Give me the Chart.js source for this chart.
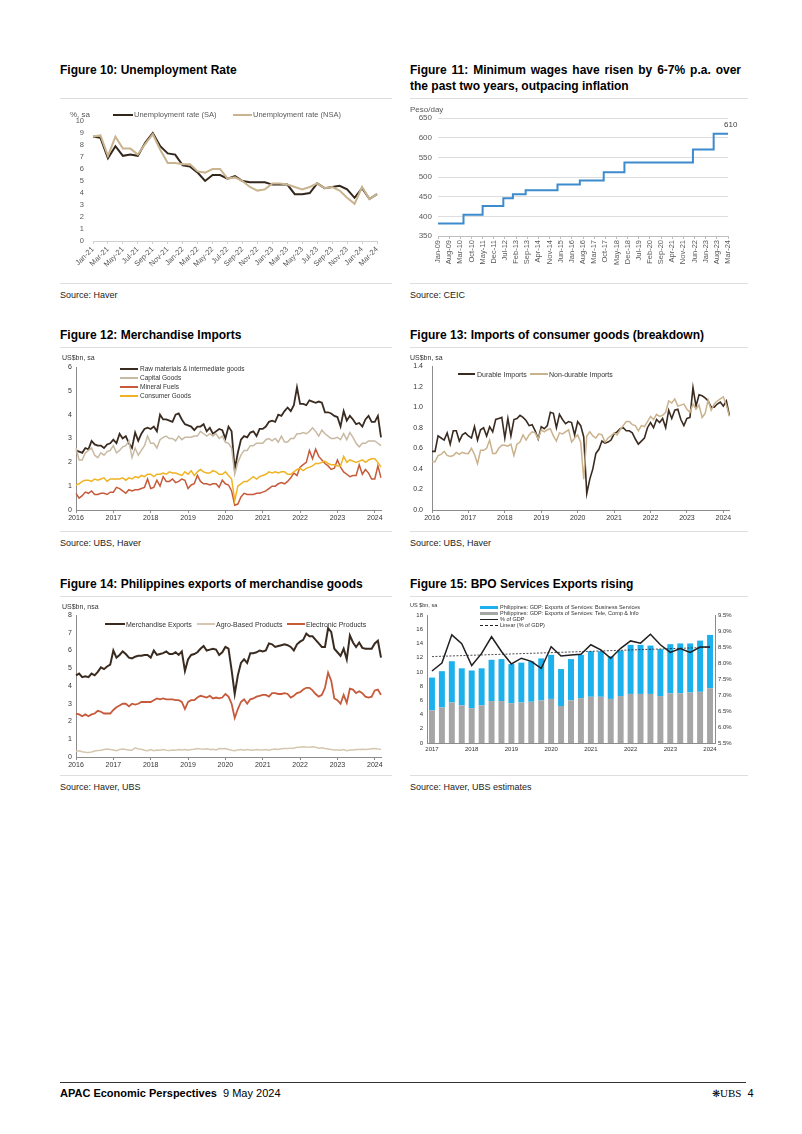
<!DOCTYPE html>
<html>
<head>
<meta charset="utf-8">
<script src="https://cdn.jsdelivr.net/npm/chart.js@4.4.0/dist/chart.umd.min.js"></script>
<style>
body { margin: 0; background: #fff; }
#page { position: relative; width: 802px; height: 1134px; font-family: 'Liberation Sans', Arial, sans-serif; color: #000; overflow: hidden; background: #fff; }
.t { position: absolute; font-weight: bold; font-size: 12px; line-height: 16px; }
.src { position: absolute; font-size: 9px; color: #222; line-height: 1; }
.rule { position: absolute; height: 1px; background: #dedede; }
.lbl { position: absolute; color: #333; white-space: nowrap; line-height: 1; }
.key { position: absolute; height: 2px; }
canvas { position: absolute; }
</style>
</head>
<body>
<div id="page">
  <!-- row 1 -->
  <div class="t" style="left:60px;top:62px;">Figure 10: Unemployment Rate</div>
  <div class="t" style="left:410px;top:62px;width:331px;text-align:justify;">Figure 11: Minimum wages have risen by 6-7% p.a. over the past two years, outpacing inflation</div>
  <div class="rule" style="left:60px;top:98px;width:332px;"></div>
  <div class="rule" style="left:410px;top:98px;width:338px;"></div>

  <canvas id="c10" width="330" height="175" style="left:60px;top:112px;width:330px;height:175px;"></canvas>
  <div class="lbl" style="left:70px;top:111px;font-size:8px;color:#595959;">%, sa</div>
  <div class="key" style="left:113px;top:114px;width:20px;background:#33261b;"></div>
  <div class="lbl" style="left:134px;top:111px;font-size:7.5px;color:#595959;">Unemployment rate (SA)</div>
  <div class="key" style="left:233px;top:114px;width:19px;background:#c9b48f;"></div>
  <div class="lbl" style="left:253px;top:111px;font-size:7.5px;color:#595959;">Unemployment rate (NSA)</div>

  <canvas id="c11" width="340" height="165" style="left:405px;top:105px;width:340px;height:165px;"></canvas>
  <div class="lbl" style="left:410px;top:106px;font-size:8px;color:#595959;">Peso/day</div>
  <div class="lbl" style="left:724px;top:121px;font-size:8px;color:#404040;">610</div>

  <div class="rule" style="left:60px;top:283px;width:332px;"></div>
  <div class="rule" style="left:410px;top:283px;width:338px;"></div>
  <div class="src" style="left:60px;top:291px;">Source: Haver</div>
  <div class="src" style="left:410px;top:291px;">Source: CEIC</div>

  <!-- row 2 -->
  <div class="t" style="left:60px;top:327px;">Figure 12: Merchandise Imports</div>
  <div class="t" style="left:410px;top:327px;">Figure 13: Imports of consumer goods (breakdown)</div>
  <div class="rule" style="left:60px;top:347px;width:332px;"></div>
  <div class="rule" style="left:410px;top:347px;width:338px;"></div>

  <canvas id="c12" width="330" height="170" style="left:60px;top:355px;width:330px;height:170px;"></canvas>
  <div class="lbl" style="left:62px;top:354px;font-size:7px;">US$bn, sa</div>
  <div class="key" style="left:120px;top:368px;width:18px;background:#3a2b20;"></div>
  <div class="lbl" style="left:140px;top:366px;font-size:6.5px;">Raw materials &amp; intermediate goods</div>
  <div class="key" style="left:120px;top:377px;width:18px;background:#c8b9a2;"></div>
  <div class="lbl" style="left:140px;top:375px;font-size:6.5px;">Capital Goods</div>
  <div class="key" style="left:120px;top:386px;width:18px;background:#c65a3a;"></div>
  <div class="lbl" style="left:140px;top:384px;font-size:6.5px;">Mineral Fuels</div>
  <div class="key" style="left:120px;top:395px;width:18px;background:#f0b323;"></div>
  <div class="lbl" style="left:140px;top:393px;font-size:6.5px;">Consumer Goods</div>

  <canvas id="c13" width="340" height="170" style="left:405px;top:355px;width:340px;height:170px;"></canvas>
  <div class="lbl" style="left:410px;top:354px;font-size:7px;">US$bn, sa</div>
  <div class="key" style="left:458px;top:373px;width:17px;background:#3a2b20;"></div>
  <div class="lbl" style="left:477px;top:371px;font-size:7px;">Durable Imports</div>
  <div class="key" style="left:530px;top:373px;width:18px;background:#c9b28c;"></div>
  <div class="lbl" style="left:549px;top:371px;font-size:7px;">Non-durable Imports</div>

  <div class="rule" style="left:60px;top:531px;width:332px;"></div>
  <div class="rule" style="left:410px;top:531px;width:338px;"></div>
  <div class="src" style="left:60px;top:539px;">Source: UBS, Haver</div>
  <div class="src" style="left:410px;top:539px;">Source: UBS, Haver</div>

  <!-- row 3 -->
  <div class="t" style="left:60px;top:576px;">Figure 14: Philippines exports of merchandise goods</div>
  <div class="t" style="left:410px;top:576px;">Figure 15: BPO Services Exports rising</div>
  <div class="rule" style="left:60px;top:596px;width:332px;"></div>
  <div class="rule" style="left:410px;top:596px;width:338px;"></div>

  <canvas id="c14" width="330" height="170" style="left:60px;top:603px;width:330px;height:170px;"></canvas>
  <div class="lbl" style="left:62px;top:603px;font-size:7px;">US$bn, nsa</div>
  <div class="key" style="left:105px;top:623px;width:20px;background:#3a2b20;"></div>
  <div class="lbl" style="left:126px;top:621px;font-size:7px;">Merchandise Exports</div>
  <div class="key" style="left:197px;top:623px;width:18px;background:#d6c7b0;"></div>
  <div class="lbl" style="left:216px;top:621px;font-size:7px;">Agro-Based Products</div>
  <div class="key" style="left:287px;top:623px;width:18px;background:#c65a3a;"></div>
  <div class="lbl" style="left:306px;top:621px;font-size:7px;">Electronic Products</div>

  <canvas id="c15" width="340" height="155" style="left:405px;top:603px;width:340px;height:155px;"></canvas>
  <div class="lbl" style="left:410px;top:603px;font-size:5.5px;">US $bn, sa</div>
  <div class="key" style="left:480px;top:606px;width:18px;height:3px;background:#1cb0ec;"></div>
  <div class="lbl" style="left:500px;top:604.5px;font-size:5.5px;">Philippines: GDP: Exports of Services: Business Services</div>
  <div class="key" style="left:480px;top:612px;width:18px;height:3px;background:#a6a6a6;"></div>
  <div class="lbl" style="left:500px;top:610.5px;font-size:5.5px;">Philippines: GDP: Exports of Services: Tele, Comp &amp; Info</div>
  <div class="key" style="left:480px;top:618.5px;width:18px;height:1.5px;background:#231f20;"></div>
  <div class="lbl" style="left:500px;top:616.5px;font-size:5.5px;">% of GDP</div>
  <div class="key" style="left:480px;top:625px;width:18px;height:0;border-top:1px dashed #231f20;"></div>
  <div class="lbl" style="left:500px;top:623px;font-size:5.5px;">Linear (% of GDP)</div>

  <div class="rule" style="left:60px;top:775px;width:332px;"></div>
  <div class="rule" style="left:410px;top:775px;width:338px;"></div>
  <div class="src" style="left:60px;top:783px;">Source: Haver, UBS</div>
  <div class="src" style="left:410px;top:783px;">Source: Haver, UBS estimates</div>

  <!-- footer -->
  <div style="position:absolute;left:60px;top:1082px;width:686px;height:1px;background:#333;"></div>
  <div style="position:absolute;left:60px;top:1087px;font-size:11px;line-height:12px;white-space:nowrap;"><b>APAC Economic Perspectives</b>&nbsp; 9 May 2024</div>
  <div style="position:absolute;left:712px;top:1087px;font-size:11px;line-height:12px;white-space:nowrap;"><span style="font-size:10px;">&#10059;</span><span style="font-family:'Liberation Serif',serif;">UBS</span>&nbsp; 4</div>
</div>

<script>
Chart.defaults.font.family = "'Liberation Sans', Arial, sans-serif";
Chart.defaults.font.size = 7;
Chart.defaults.color = '#333';
Chart.defaults.animation = false;
Chart.defaults.responsive = false;
Chart.defaults.plugins.legend.display = false;
Chart.defaults.plugins.tooltip.enabled = false;
Chart.defaults.elements.point.radius = 0;
Chart.defaults.elements.line.tension = 0;

const MONTHS = ['Jan', 'Feb', 'Mar', 'Apr', 'May', 'Jun', 'Jul', 'Aug', 'Sep', 'Oct', 'Nov', 'Dec'];

// month categories like 'Jan-21'
function monthRange(y0, m0, y1, m1) {
    const out = [];
    let y = y0, m = m0;
    while (y < y1 || (y === y1 && m <= m1)) {
        out.push(MONTHS[m] + '-' + String(y % 100).padStart(2, '0'));
        m++;
        if (m === 12) { m = 0; y++; }
    }
    return out;
}

// ---- Figure 10 data ----
const ueLabels = monthRange(2021, 0, 2024, 2);
const ueSA = [8.7, 8.6, 6.9, 7.9, 7.1, 7.2, 7.1, 8.2, 9.0, 7.9, 7.3, 7.2,
    6.3, 6.2, 5.7, 5.0, 5.5, 5.5, 5.2, 5.4, 5.0, 4.9, 4.9, 4.9,
    4.7, 4.7, 4.7, 3.9, 3.9, 4.0, 4.8, 4.4, 4.5, 4.6, 4.3, 3.6,
    4.4, 3.5, 3.9];
const ueNSA = [8.7, 8.8, 7.1, 8.7, 7.7, 7.7, 7.2, 8.1, 8.9, 7.6, 6.5, 6.5,
    6.4, 6.4, 5.8, 5.7, 6.0, 6.0, 5.2, 5.3, 5.0, 4.5, 4.2, 4.3,
    4.8, 4.8, 4.7, 4.5, 4.3, 4.5, 4.8, 4.4, 4.5, 4.2, 3.6, 3.1,
    4.5, 3.5, 3.9];

// ---- Figure 11 data (wage change dates) ----
const wageLabels = monthRange(2009, 0, 2024, 2);
const wageDates = ['Jan-09', 'May-10', 'May-11', 'Jun-12', 'Dec-12', 'Aug-13', 'Apr-15', 'Jun-16', 'Sep-17', 'Oct-18', 'May-22', 'Jun-23', 'Mar-24'];
const wageValues = [382, 404, 426, 446, 456, 466, 481, 491, 512, 537, 570, 610, 610];

// ---- Figure 12 data ----
const impLabels = monthRange(2016, 0, 2024, 2);
const rawMat = [2.5, 2.45, 2.4, 2.6, 2.55, 2.9, 2.75, 2.7, 2.7, 2.6, 2.75, 2.8,
    2.95, 2.8, 3.2, 3.0, 3.1, 2.8, 2.6, 3.25, 2.9, 3.2, 3.4, 3.45,
    3.4, 3.5, 3.3, 4.0, 3.8, 3.8, 3.75, 3.7, 4.0, 4.05, 3.8, 3.6,
    3.55, 3.5, 3.35, 3.5, 3.5, 3.6, 3.3, 3.45, 3.2, 3.3, 3.4, 3.35,
    3.0, 3.5, 3.3, 1.7, 2.4, 2.95, 3.1, 3.05, 3.25, 3.3, 3.1, 3.4,
    3.4, 3.5, 3.7, 3.75, 3.7, 4.0, 3.95, 4.15, 4.3, 4.15, 4.4, 5.15,
    4.45, 4.45, 4.4, 4.6, 4.55, 4.5, 4.55, 4.5, 4.1, 4.1, 4.05, 3.95,
    3.9, 3.5, 4.15, 3.75, 3.95, 3.8, 3.6, 3.65, 3.5, 3.8, 3.95, 3.7,
    3.7, 3.95, 3.05];
const capGoods = [2.6, 2.1, 2.1, 2.4, 2.5, 2.6, 2.3, 2.2, 2.4, 2.3, 2.45, 2.5,
    2.7, 2.4, 2.5, 2.65, 2.7, 2.9, 2.2, 2.6, 2.3, 2.5, 2.7, 3.1,
    2.8, 2.8, 2.6, 2.95, 3.05, 3.1, 3.0, 3.0, 2.9, 3.1, 2.95, 3.05,
    3.05, 3.05, 3.1, 3.1, 3.3, 3.2, 3.1, 3.2, 3.1, 3.2, 3.0, 3.1,
    2.85, 2.8, 2.6, 1.5, 2.0, 2.3, 2.5, 2.5, 2.7, 2.7, 2.8, 2.8,
    2.8, 2.95, 3.0, 2.9, 3.0, 2.85, 3.1, 2.85, 2.85, 3.0, 3.0, 3.2,
    3.2, 3.25, 3.2, 3.3, 3.45, 3.3, 3.1, 3.35, 3.2, 3.1, 3.0, 3.0,
    3.05, 2.95, 3.2, 2.95, 3.25, 3.05, 2.8, 2.65, 2.8, 2.8, 2.9, 2.9,
    2.9, 2.8, 2.7];
const minFuels = [0.7, 0.5, 0.6, 0.75, 0.7, 0.8, 0.65, 0.65, 0.7, 0.7, 0.65, 0.75,
    0.75, 0.95, 0.9, 0.8, 0.7, 0.85, 0.8, 0.85, 0.85, 0.9, 0.95, 1.3,
    0.9, 0.95, 1.25, 1.0, 1.4, 1.2, 1.2, 1.3, 1.15, 1.2, 1.3, 1.25,
    0.9, 1.05, 1.1, 1.45, 1.2, 1.1, 1.1, 1.05, 1.1, 1.1, 0.95, 1.25,
    1.1, 1.05, 0.8, 0.2, 0.25, 0.55, 0.7, 0.65, 0.65, 0.65, 0.7, 0.7,
    0.75, 0.8, 0.9, 1.0, 1.0, 1.1, 1.15, 1.1, 1.2, 1.35, 1.55, 1.45,
    1.8, 1.9, 2.0, 2.5, 2.15, 2.55, 2.25, 2.1, 1.95, 1.85, 1.7, 1.75,
    2.1, 1.8, 1.6, 1.5, 1.4, 1.45, 1.45, 1.9, 1.5, 1.7, 1.55, 1.3,
    1.3, 1.85, 1.35];
const consGoods = [1.05, 1.1, 1.2, 1.25, 1.25, 1.2, 1.3, 1.25, 1.3, 1.35, 1.2, 1.3,
    1.3, 1.3, 1.3, 1.35, 1.25, 1.35, 1.3, 1.4, 1.35, 1.45, 1.4, 1.5,
    1.5, 1.4, 1.5, 1.5, 1.55, 1.5, 1.6, 1.55, 1.55, 1.5, 1.45, 1.6,
    1.5, 1.65, 1.45, 1.6, 1.7, 1.6, 1.55, 1.55, 1.65, 1.6, 1.5, 1.5,
    1.6, 1.45, 1.3, 0.4, 1.0, 1.1, 1.2, 1.2, 1.3, 1.4, 1.3, 1.4,
    1.45, 1.5, 1.6, 1.55, 1.6, 1.55, 1.6, 1.6, 1.5, 1.5, 1.6, 1.7,
    1.75, 1.65, 1.75, 1.8, 1.85, 1.95, 1.95, 2.0, 2.05, 1.95, 1.9, 1.9,
    1.85, 1.85, 2.25, 2.0, 2.1, 2.05, 2.0, 2.05, 2.1, 2.0, 2.1, 2.15,
    2.15, 2.0, 1.8];

// ---- Figure 13 data ----
const durable = [0.57, 0.57, 0.72, 0.70, 0.68, 0.75, 0.64, 0.77, 0.77, 0.67, 0.73, 0.75,
    0.72, 0.70, 0.81, 0.68, 0.78, 0.80, 0.72, 0.81, 0.76, 0.88, 0.89, 0.90,
    0.70, 0.89, 0.72, 0.88, 0.89, 0.92, 0.90, 0.87, 0.82, 0.83, 0.77, 0.69,
    0.81, 0.79, 0.82, 0.95, 0.94, 0.80, 0.93, 0.88, 0.84, 0.86, 0.85, 0.73,
    0.86, 0.82, 0.71, 0.16, 0.30, 0.40, 0.55, 0.59, 0.67, 0.65, 0.66, 0.68,
    0.74, 0.76, 0.79, 0.80, 0.77, 0.77, 0.75, 0.69, 0.64, 0.67, 0.70, 0.80,
    0.85, 0.80, 0.88, 0.85, 0.89, 0.80, 0.97, 0.89, 0.97, 0.98, 0.88, 0.82,
    0.89, 0.90, 1.19, 1.01, 1.12, 1.11, 1.09, 1.06, 1.00, 1.00, 1.03, 1.05,
    1.01, 1.06, 0.92];
const nonDurable = [0.47, 0.47, 0.53, 0.54, 0.57, 0.53, 0.52, 0.53, 0.56, 0.54, 0.56, 0.55,
    0.55, 0.60, 0.54, 0.45, 0.58, 0.58, 0.60, 0.68, 0.55, 0.55, 0.60, 0.63,
    0.63, 0.62, 0.64, 0.53, 0.64, 0.66, 0.73, 0.68, 0.73, 0.76, 0.75, 0.69,
    0.78, 0.76, 0.78, 0.79, 0.72, 0.67, 0.75, 0.74, 0.76, 0.78, 0.66, 0.70,
    0.73, 0.66, 0.30, 0.72, 0.76, 0.72, 0.70, 0.74, 0.73, 0.66, 0.70, 0.72,
    0.75, 0.73, 0.78, 0.82, 0.86, 0.86, 0.83, 0.82, 0.77, 0.82, 0.81, 0.86,
    0.91, 0.88, 0.93, 0.91, 0.92, 0.95, 1.06, 1.04, 1.08, 1.01, 1.02, 1.03,
    0.98, 0.95, 1.03, 0.98, 1.02, 0.90, 0.94, 1.07, 0.97, 1.03, 1.06, 1.08,
    1.10, 1.02, 0.91];

// ---- Figure 14 data ----
const merchExp = [4.6, 4.7, 4.5, 4.55, 4.5, 4.7, 4.6, 4.8, 5.05, 4.95, 5.1, 5.2,
    6.0, 5.6, 5.75, 5.95, 5.8, 5.6, 5.55, 5.65, 5.7, 5.7, 5.75, 5.75,
    5.6, 6.0, 5.75, 5.8, 5.85, 5.95, 5.8, 5.8, 5.9, 5.75, 5.95, 4.85,
    5.5, 5.75, 5.8, 5.9, 6.1, 6.25, 6.0, 6.05, 6.1, 6.05, 5.75, 5.9,
    6.2, 6.1, 4.9, 3.55, 4.6, 5.3, 5.5, 5.3, 5.85, 5.85, 5.9, 6.0,
    5.95, 6.0, 6.4, 6.35, 6.2, 6.25, 6.3, 6.35, 6.3, 6.2, 6.0, 6.35,
    6.5, 6.6, 6.95, 6.8, 6.8, 6.6, 6.4, 6.2, 6.2, 7.25, 7.05, 6.1,
    5.9, 5.7, 6.1, 5.5, 6.85, 6.45, 6.2, 6.45, 6.15, 6.1, 6.1, 6.1,
    6.4, 6.55, 5.6];
const agroExp = [0.32, 0.35, 0.3, 0.27, 0.25, 0.28, 0.34, 0.36, 0.38, 0.42, 0.45, 0.42,
    0.4, 0.36, 0.42, 0.45, 0.42, 0.4, 0.38, 0.52, 0.45, 0.44, 0.38, 0.35,
    0.42, 0.36, 0.4, 0.38, 0.42, 0.38, 0.36, 0.4, 0.38, 0.42, 0.4, 0.42,
    0.38, 0.42, 0.44, 0.48, 0.45, 0.44, 0.46, 0.42, 0.44, 0.4, 0.48, 0.46,
    0.48, 0.42, 0.38, 0.35, 0.4, 0.42, 0.38, 0.42, 0.4, 0.38, 0.42, 0.4,
    0.4, 0.42, 0.38, 0.42, 0.45, 0.42, 0.46, 0.48, 0.48, 0.5, 0.5, 0.55,
    0.55, 0.58, 0.56, 0.55, 0.58, 0.55, 0.5, 0.52, 0.48, 0.45, 0.42, 0.4,
    0.4, 0.38, 0.42, 0.36, 0.4, 0.4, 0.42, 0.42, 0.44, 0.42, 0.44, 0.46,
    0.48, 0.45, 0.44];
const elecExp = [2.45, 2.4, 2.3, 2.4, 2.3, 2.4, 2.45, 2.6, 2.55, 2.45, 2.45, 2.45,
    2.65, 2.8, 2.9, 3.0, 3.0, 2.85, 3.0, 2.95, 3.0, 3.1, 3.1, 3.1,
    3.1, 3.2, 3.3, 3.25, 3.3, 3.25, 3.25, 3.25, 3.2, 3.2, 3.1, 2.7,
    3.1, 3.2, 3.2, 3.35, 3.45, 3.4, 3.35, 3.45, 3.3, 3.35, 3.3, 3.35,
    3.55, 3.4, 3.0, 2.2, 2.7, 3.1, 3.25, 3.0, 3.25, 3.3, 3.4, 3.45,
    3.5, 3.5, 3.4, 3.6, 3.6, 3.55, 3.55, 3.6, 3.55, 3.35, 3.45, 3.6,
    3.65, 3.8, 3.9, 3.9, 3.75, 3.55, 3.4, 3.5, 3.9, 4.75, 4.3, 3.3,
    3.2, 3.0, 3.5, 3.05, 3.85, 3.8, 3.6, 3.7, 3.6, 3.4, 3.35, 3.4,
    3.75, 3.8, 3.5];

// ---- Figure 15 data (quarterly, 2017Q1-2024Q1) ----
const qLabels = [];
for (let y = 2017; y <= 2024; y++) {
    for (let q = 1; q <= 4; q++) {
        if (y === 2024 && q > 1) break;
        qLabels.push(y + 'Q' + q);
    }
}
const teleComp = [4.6, 5.0, 5.7, 5.3, 4.9, 5.3, 5.9, 5.9, 5.6, 5.7, 5.8, 6.0, 6.2, 5.2, 6.0,
    6.3, 6.5, 6.5, 6.2, 6.6, 6.9, 6.9, 6.9, 6.6, 7.0, 7.0, 7.1, 7.2, 7.7];
const bizServ = [4.6, 5.1, 5.8, 5.2, 5.3, 5.2, 5.8, 5.9, 5.5, 5.6, 5.7, 5.9, 6.2, 5.2, 5.8,
    6.1, 6.4, 6.4, 6.0, 6.4, 6.9, 6.9, 6.8, 6.6, 6.9, 7.0, 6.9, 7.2, 7.5];
const bpoShare = [7.75, 8.0, 8.88, 8.6, 7.92, 8.3, 8.82, 8.36, 7.97, 8.15, 8.05, 7.83, 8.51, 8.22, 8.25,
    8.27, 8.57, 8.41, 8.15, 8.46, 8.69, 8.62, 8.9, 8.57, 8.33, 8.45, 8.33, 8.5, 8.5];
const trendEnds = [8.2, 8.49];

// ---- helpers ----
function yFit(w) {
    return s => { s.width = w; s.paddingTop = 0; s.paddingBottom = 0; };
}
function xFit(h) {
    return s => { s.height = h; s.paddingLeft = 0; s.paddingRight = 0; };
}
function lineSet(data, color, width) {
    return { data: data, borderColor: color, borderWidth: width, pointRadius: 0, fill: false };
}
function yearAxis(labels, height, size) {
    return {
        grid: { display: true, drawOnChartArea: false, drawTicks: true, tickLength: 3,
            tickColor: c => (c.index % 12 === 0 ? '#8c8c8c' : 'rgba(0,0,0,0)') },
        border: { color: '#8c8c8c', width: 1 },
        ticks: { autoSkip: false, maxRotation: 0, minRotation: 0, padding: 1, font: { size: size },
            callback: (v, i) => (i % 12 === 0 ? '20' + labels[i].slice(4) : '') },
        afterFit: xFit(height)
    };
}
function valueAxis(min, max, step, width, pad, size, fmt) {
    return {
        min: min, max: max,
        grid: { display: false, drawTicks: false },
        border: { color: '#8c8c8c', width: 1 },
        ticks: { stepSize: step, padding: pad, font: { size: size }, callback: fmt || (v => v) },
        afterFit: yFit(width)
    };
}

// Figure 10
new Chart(document.getElementById('c10'), {
    type: 'line',
    data: { labels: ueLabels, datasets: [lineSet(ueNSA, '#c9b48f', 2), lineSet(ueSA, '#33261b', 2)] },
    options: {
        layout: { padding: { top: 9, right: 13 } },
        scales: {
            x: {
                grid: { display: true, drawOnChartArea: false, drawTicks: true, tickLength: 3,
                    tickColor: c => (c.index % 2 === 0 ? '#d0d0d0' : 'rgba(0,0,0,0)') },
                border: { color: '#d0d0d0' },
                ticks: { autoSkip: false, minRotation: 45, maxRotation: 45, padding: 1, color: '#595959', font: { size: 7.5 },
                    callback: (v, i) => (i % 2 === 0 ? ueLabels[i] : '') },
                afterFit: xFit(46)
            },
            y: {
                min: 0, max: 10,
                grid: { display: false, drawTicks: false },
                border: { display: false },
                ticks: { stepSize: 1, padding: 9, color: '#595959', font: { size: 7.5 } },
                afterFit: yFit(33)
            }
        }
    }
});

// Figure 11
new Chart(document.getElementById('c11'), {
    type: 'line',
    data: {
        labels: wageLabels,
        datasets: [{
            data: wageDates.map((d, i) => ({ x: d, y: wageValues[i] })),
            borderColor: '#3d8bcd', borderWidth: 2, pointRadius: 0, stepped: true
        }]
    },
    options: {
        layout: { padding: { top: 13, right: 17 } },
        scales: {
            x: {
                grid: { display: true, drawOnChartArea: false, drawTicks: true, tickLength: 3,
                    tickColor: c => (c.index % 7 === 0 ? '#bfbfbf' : 'rgba(0,0,0,0)') },
                border: { color: '#bfbfbf' },
                ticks: { autoSkip: false, minRotation: 90, maxRotation: 90, padding: 1, color: '#595959', font: { size: 7.5 },
                    callback: (v, i) => (i % 7 === 0 ? wageLabels[i] : '') },
                afterFit: xFit(34)
            },
            y: {
                min: 350, max: 650,
                grid: { color: '#dedede', drawTicks: false },
                border: { display: false },
                ticks: { stepSize: 50, padding: 6, color: '#595959', font: { size: 8 } },
                afterFit: yFit(33)
            }
        }
    }
});

// Figure 12
new Chart(document.getElementById('c12'), {
    type: 'line',
    data: {
        labels: impLabels,
        datasets: [
            lineSet(consGoods, '#f0b323', 1.5),
            lineSet(minFuels, '#c65a3a', 1.5),
            lineSet(capGoods, '#c8b9a2', 1.5),
            lineSet(rawMat, '#3a2b20', 1.8)
        ]
    },
    options: {
        layout: { padding: { top: 12, right: 9 } },
        scales: {
            x: yearAxis(impLabels, 15, 7),
            y: valueAxis(0, 6, 1, 16, 4, 7)
        }
    }
});

// Figure 13
new Chart(document.getElementById('c13'), {
    type: 'line',
    data: {
        labels: impLabels,
        datasets: [lineSet(nonDurable, '#c9b28c', 1.5), lineSet(durable, '#3a2b20', 1.6)]
    },
    options: {
        layout: { padding: { top: 11, right: 15.6 } },
        scales: {
            x: yearAxis(impLabels, 15, 7),
            y: valueAxis(0, 1.4, 0.2, 27, 9, 7, v => v.toFixed(1))
        }
    }
});

// Figure 14
new Chart(document.getElementById('c14'), {
    type: 'line',
    data: {
        labels: impLabels,
        datasets: [
            lineSet(agroExp, '#d6c7b0', 1.5),
            lineSet(elecExp, '#c65a3a', 1.8),
            lineSet(merchExp, '#3a2b20', 2)
        ]
    },
    options: {
        layout: { padding: { top: 12, right: 9 } },
        scales: {
            x: yearAxis(impLabels, 16, 7),
            y: valueAxis(0, 8, 1, 16, 4, 7)
        }
    }
});

// Figure 15
const trendData = qLabels.map((q, i) => (i === 0 ? trendEnds[0] : i === qLabels.length - 1 ? trendEnds[1] : null));
new Chart(document.getElementById('c15'), {
    type: 'bar',
    data: {
        labels: qLabels,
        datasets: [
            { type: 'line', data: bpoShare, yAxisID: 'y1', borderColor: '#231f20', borderWidth: 1.5, pointRadius: 0, order: 0 },
            { type: 'line', data: trendData, yAxisID: 'y1', borderColor: '#231f20', borderWidth: 0.8, borderDash: [2, 1.5], spanGaps: true, pointRadius: 0, order: 0 },
            { data: teleComp, backgroundColor: '#a6a6a6', stack: 's', order: 1, barPercentage: 0.6, categoryPercentage: 1 },
            { data: bizServ, backgroundColor: '#1cb0ec', stack: 's', order: 1, barPercentage: 0.6, categoryPercentage: 1 }
        ]
    },
    options: {
        layout: { padding: { top: 12 } },
        scales: {
            x: {
                stacked: true,
                grid: { display: false, drawTicks: false },
                border: { color: '#8c8c8c' },
                ticks: { autoSkip: false, maxRotation: 0, padding: 3, font: { size: 6 },
                    callback: (v, i) => (i % 4 === 0 ? qLabels[i].slice(0, 4) : '') },
                afterFit: xFit(15)
            },
            y: Object.assign(valueAxis(0, 18, 2, 22, 4, 6), { stacked: true }),
            y1: Object.assign(valueAxis(5.5, 9.5, 0.5, 30, 3, 6, v => v.toFixed(1) + '%'), { position: 'right' })
        }
    }
});
</script>
</body>
</html>
